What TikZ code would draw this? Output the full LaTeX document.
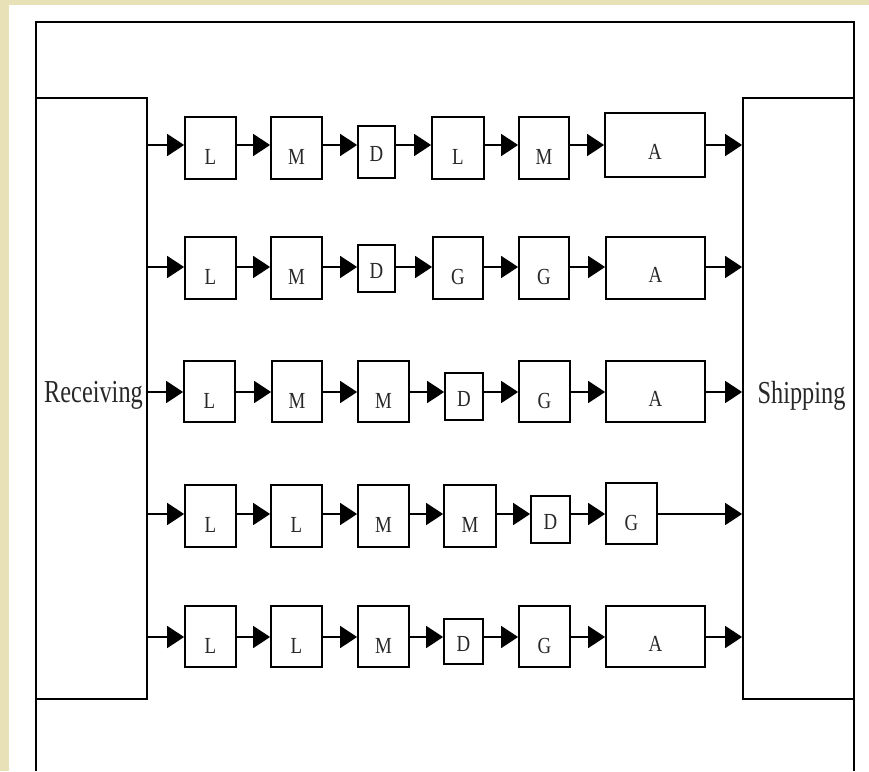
\documentclass[tikz,border=0pt]{standalone}
\usepackage{fontspec}
\setmainfont{Liberation Serif}
\usepackage{graphicx}
\usetikzlibrary{arrows.meta}
\definecolor{beige}{RGB}{232,224,182}
\definecolor{ink}{RGB}{40,40,40}
\tikzset{
  frame/.style={line width=1.9pt},
  box/.style={draw, line width=1.8pt, inner sep=0pt, fill=white},
  lab/.style={font=\fontsize{23}{23}\selectfont, inner sep=0pt, text=ink},
  biglab/.style={font=\fontsize{32}{32}\selectfont, inner sep=0pt, text=ink},
  arr/.style={line width=1.8pt, -{Triangle[length=17pt,width=22pt]}},
}
\newcommand\bx[7]{%
  \node[box, minimum width={#3pt-#2pt}, minimum height={#5pt-#4pt},
        label={[lab,yshift=-#7pt]center:{\scalebox{0.82}[1]{#6}}}]
        (#1) at ({(#2+#3)/2},{(#4+#5)/2}) {};}
\begin{document}
\begin{tikzpicture}[x=1pt,y=-1pt]
\useasboundingbox (0,0) rectangle (869,771);
\fill[beige] (0,0) rectangle (869,771);
\fill[white] (9,5) rectangle (869,771);
\draw[frame] (36,771) -- (36,22) -- (854,22) -- (854,771);

\node[box, minimum width=111pt, minimum height=601pt,
      label={[biglab,yshift=3pt,xshift=2pt]center:{\scalebox{0.76}[1]{Receiving}}}] (rec) at (91.5,398.5) {};
\node[box, minimum width=111pt, minimum height=601pt,
      label={[biglab,yshift=3pt,xshift=3pt]center:{\scalebox{0.76}[1]{Shipping}}}] (ship) at (798.5,398.5) {};

\coordinate (r1) at (0,145);
\coordinate (r2) at (0,267);
\coordinate (r3) at (0,392);
\coordinate (r4) at (0,514);
\coordinate (r5) at (0,637);

% row 1
\bx{a1}{185}{236}{117}{179}{L}{9}
\bx{a2}{271}{322}{117}{179}{M}{9}
\bx{a3}{358}{395}{126}{178}{D}{2}
\bx{a4}{432}{484}{117}{179}{L}{9}
\bx{a5}{519}{569}{117}{179}{M}{9}
\bx{a6}{605}{705}{113}{177}{A}{7}
% row 2
\bx{b1}{185}{236}{237}{299}{L}{9}
\bx{b2}{271}{322}{237}{299}{M}{9}
\bx{b3}{358}{395}{245}{292}{D}{2}
\bx{b4}{433}{483}{237}{299}{G}{9}
\bx{b5}{519}{569}{237}{299}{G}{9}
\bx{b6}{606}{705}{237}{299}{A}{7}
% row 3
\bx{c1}{184}{235}{361}{422}{L}{9}
\bx{c2}{272}{322}{361}{422}{M}{9}
\bx{c3}{358}{409}{361}{422}{M}{9}
\bx{c4}{445}{483}{373}{420}{D}{2}
\bx{c5}{519}{570}{361}{422}{G}{9}
\bx{c6}{606}{705}{361}{422}{A}{7}
% row 4
\bx{d1}{185}{236}{485}{547}{L}{9}
\bx{d2}{271}{322}{485}{547}{L}{9}
\bx{d3}{358}{409}{485}{547}{M}{9}
\bx{d4}{444}{496}{485}{547}{M}{9}
\bx{d5}{531}{570}{496}{543}{D}{2}
\bx{d6}{606}{657}{483}{544}{G}{9}
% row 5
\bx{e1}{185}{236}{606}{667}{L}{9}
\bx{e2}{271}{322}{606}{667}{L}{9}
\bx{e3}{358}{409}{606}{667}{M}{9}
\bx{e4}{444}{483}{619}{664}{D}{2}
\bx{e5}{519}{570}{606}{667}{G}{9}
\bx{e6}{606}{705}{606}{667}{A}{7}

\foreach \r/\row in {a/r1,b/r2,c/r3,d/r4,e/r5}{
  \draw[arr] (rec.east |- \row) -- (\r1.west |- \row);
  \draw[arr] (\r1.east |- \row) -- (\r2.west |- \row);
  \draw[arr] (\r2.east |- \row) -- (\r3.west |- \row);
  \draw[arr] (\r3.east |- \row) -- (\r4.west |- \row);
  \draw[arr] (\r4.east |- \row) -- (\r5.west |- \row);
  \draw[arr] (\r5.east |- \row) -- (\r6.west |- \row);
  \draw[arr] (\r6.east |- \row) -- (ship.west |- \row);
}
\end{tikzpicture}
\end{document}
